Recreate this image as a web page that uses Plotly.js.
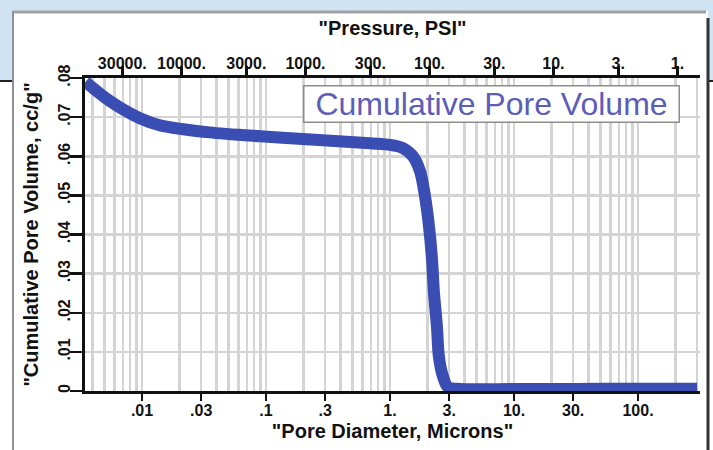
<!DOCTYPE html>
<html>
<head>
<meta charset="utf-8">
<script src="https://cdn.plot.ly/plotly-3.0.1.min.js"></script>
<style>html,body{margin:0;padding:0;background:#fff}#chart{width:713px;height:450px}</style>
</head>
<body>
<div id="chart"></div>
<script>
// ---- data ----
const poreDiameter = [0.0035, 0.0055, 0.0096, 0.014, 0.035, 0.09, 0.23, 0.69, 1.0, 1.27, 1.53, 1.75, 1.91, 2.06, 2.18, 2.26, 2.39, 2.48, 2.68, 2.93, 3.67, 10, 30, 100, 300];
const cumulativeVolume = [0.079, 0.0741, 0.0697, 0.0679, 0.0661, 0.0651, 0.0643, 0.0633, 0.0629, 0.0621, 0.0600, 0.0561, 0.0500, 0.0422, 0.0337, 0.0252, 0.0165, 0.0087, 0.0036, 0.0010, 0.0005, 0.0005, 0.0005, 0.0006, 0.0006];
const diameterTicks = [0.01, 0.03, 0.1, 0.3, 1, 3, 10, 30, 100];
const diameterTickText = [".01", ".03", ".1", ".3", "1.", "3.", "10.", "30.", "100."];
const pressureTicks = [30000, 10000, 3000, 1000, 300, 100, 30, 10, 3, 1];
const pressureTickText = ["30000.", "10000.", "3000.", "1000.", "300.", "100.", "30.", "10.", "3.", "1."];
const volumeTicks = [0, 0.01, 0.02, 0.03, 0.04, 0.05, 0.06, 0.07, 0.08];
const volumeTickText = ["0", ".01", ".02", ".03", ".04", ".05", ".06", ".07", ".08"];
const washburnK = 208; // pressure (psi) * diameter (microns)

// ---- layout helpers ----
const W = 713, H = 450, L = 85, R = 13, T = 78, B = 59;
const pw = W - L - R, ph = H - T - B;
const X = px => (px - L) / pw;
const Y = py => (H - B - py) / ph;

const logRange = [-2.46, 2.5];
const minorGrid = [];
for (let e = -3; e <= 2; e++) for (let m = 1; m <= 9; m++) minorGrid.push(m * Math.pow(10, e));

const pressure = poreDiameter.map(d => washburnK / d);

const tickFont = {family: 'Liberation Sans, Arial, sans-serif', size: 16, color: '#111', weight: 700};
const titleFont = {family: 'Liberation Sans, Arial, sans-serif', size: 20, color: '#111', weight: 700};
const curveColor = '#3a4db2';
const gridColor = '#d4d4d4';

const traces = [
  {x: poreDiameter, y: cumulativeVolume, type: 'scatter', mode: 'lines',
   line: {color: curveColor, width: 12, shape: 'spline', smoothing: 0.8},
   xaxis: 'x', yaxis: 'y', showlegend: false, hoverinfo: 'skip'},
  {x: pressure, y: cumulativeVolume, type: 'scatter', mode: 'lines',
   line: {color: 'rgba(0,0,0,0)', width: 0},
   xaxis: 'x2', yaxis: 'y', showlegend: false, hoverinfo: 'skip'}
];

function seg(x0, y0, x1, y1, color, width) {
  return {type: 'line', xref: 'paper', yref: 'paper', x0: X(x0), y0: Y(y0), x1: X(x1), y1: Y(y1),
          line: {color: color, width: width}, layer: 'below'};
}

const layout = {
  width: W, height: H,
  margin: {l: L, r: R, t: T, b: B, pad: 0},
  paper_bgcolor: '#ffffff',
  plot_bgcolor: 'rgba(0,0,0,0)',
  showlegend: false,
  xaxis: {
    type: 'log', range: logRange, side: 'bottom',
    tickvals: diameterTicks, ticktext: diameterTickText, tickfont: tickFont,
    ticks: 'outside', ticklen: 7, tickwidth: 2.5, tickcolor: '#111', ticklabelstandoff: -4,
    showline: true, linecolor: '#111', linewidth: 3,
    showgrid: false, zeroline: false,
    minor: {tickvals: minorGrid, showgrid: true, gridcolor: gridColor, gridwidth: 2.5, ticks: ''},
    title: {text: '"Pore Diameter, Microns"', font: titleFont, standoff: 6},
    automargin: false
  },
  xaxis2: {
    type: 'log', overlaying: 'x', side: 'top', anchor: 'y',
    range: [Math.log10(washburnK) - logRange[0], Math.log10(washburnK) - logRange[1]],
    tickvals: pressureTicks, ticktext: pressureTickText, tickfont: tickFont,
    ticks: 'outside', ticklen: 9, tickwidth: 2.5, tickcolor: '#111', ticklabelstandoff: -9,
    showline: true, linecolor: '#111', linewidth: 3,
    showgrid: false, zeroline: false,
    title: {text: '"Pressure, PSI"', font: titleFont, standoff: 14},
    automargin: false
  },
  yaxis: {
    range: [0, 0.08],
    tickvals: volumeTicks, ticktext: volumeTickText, tickfont: tickFont, tickangle: -90,
    ticks: 'outside', ticklen: 12, tickwidth: 2.5, tickcolor: '#111', ticklabelstandoff: -6,
    showline: true, linecolor: '#111', linewidth: 3,
    showgrid: true, gridcolor: gridColor, gridwidth: 2.5, zeroline: false,
    title: {text: '"Cumulative Pore Volume, cc/g"', font: titleFont, standoff: 12},
    automargin: false
  },
  shapes: [
    {type: 'rect', xref: 'paper', yref: 'paper', x0: X(0), x1: X(W), y0: Y(0), y1: Y(81),
     fillcolor: '#cfe3f3', line: {width: 0}, layer: 'below'},
    {type: 'rect', xref: 'paper', yref: 'paper', x0: X(12), x1: X(708), y0: Y(11), y1: Y(H + 2),
     fillcolor: '#ffffff', line: {width: 0}, layer: 'below'},
    seg(12, 12, 706, 12, '#9ea3a8', 3),
    seg(13, 12, 13, H, '#8e9296', 2),
    seg(708, 18, 708, H, '#333333', 3),
    seg(0, 81, 12, 81, '#222222', 2),
    seg(709, 81, W, 81, '#222222', 2)
  ],
  annotations: [
    {xref: 'paper', yref: 'paper', x: X(491), y: Y(103.5), xanchor: 'center', yanchor: 'middle',
     text: 'Cumulative Pore Volume', showarrow: false,
     font: {family: 'Liberation Sans, Arial, sans-serif', size: 32, color: '#5d5cb6'},
     bgcolor: '#ffffff', bordercolor: '#8c8c8c', borderwidth: 1.5, borderpad: 1,
     width: 372, height: 33}
  ]
};

Plotly.newPlot('chart', traces, layout, {displayModeBar: false, staticPlot: true});
</script>
</body>
</html>
